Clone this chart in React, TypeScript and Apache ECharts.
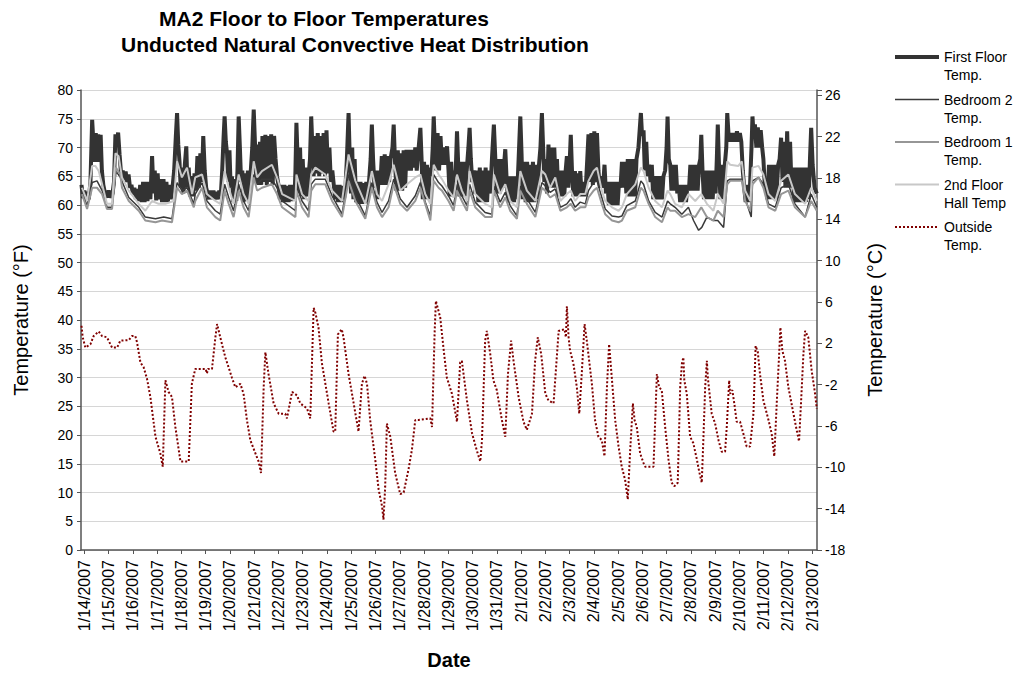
import React, { useEffect, useRef } from "react";
import * as echarts from "echarts";

const BASE = new Date(2007, 0, 14).getTime();
const DAY = 86400000;
const FONT = "'Liberation Sans', Arial, sans-serif";

// [days since 1/14/2007 00:00, °F]
const firstFloor: [number, number][] = [[-0.12,63.5],[-0.06,61.2],[0,62.5],[0.06,61],[0.12,62.3],[0.18,61],[0.25,64],[0.32,74.8],[0.37,71],[0.42,67.5],[0.47,72.5],[0.52,67.5],[0.57,72.3],[0.62,67.5],[0.67,72.2],[0.72,66],[0.78,63.5],[0.85,62],[0.92,61.3],[1,62.5],[1.08,61.3],[1.16,62],[1.22,64],[1.28,72.3],[1.34,70.5],[1.39,72.6],[1.45,68.8],[1.52,65],[1.58,66],[1.64,64.3],[1.7,65.8],[1.76,64],[1.82,65.3],[1.88,63],[1.94,63.5],[2,61.8],[2.06,63],[2.12,61],[2.18,62.8],[2.24,60.7],[2.3,63.5],[2.36,60.5],[2.42,64],[2.48,60.5],[2.54,64],[2.6,60.7],[2.66,64],[2.72,61],[2.79,68.5],[2.85,62],[2.9,66],[2.96,60.8],[3.02,65.5],[3.08,61],[3.14,64.5],[3.2,60.5],[3.26,64.5],[3.32,60.5],[3.38,64],[3.44,60.5],[3.5,63.5],[3.56,61],[3.62,62.5],[3.7,66],[3.77,72],[3.82,76],[3.87,70.5],[3.92,67.6],[3.97,63],[4.02,66.5],[4.08,62],[4.14,67],[4.2,70.2],[4.25,63],[4.3,66.5],[4.36,61.5],[4.42,65],[4.48,61.5],[4.54,65.5],[4.6,62.5],[4.66,68.5],[4.72,63],[4.78,69],[4.84,64],[4.9,72],[4.96,66],[5.02,63],[5.08,62],[5.14,61],[5.2,62.5],[5.26,61],[5.32,62.5],[5.38,61],[5.44,62.3],[5.5,61],[5.56,62.5],[5.62,61.5],[5.68,66],[5.74,72],[5.78,75.4],[5.83,71],[5.88,69],[5.93,64],[5.98,69.5],[6.03,63],[6.08,65],[6.14,60.5],[6.2,64.5],[6.26,60.7],[6.31,66],[6.36,75.4],[6.41,70],[6.46,64],[6.51,66],[6.56,60.5],[6.62,65.5],[6.68,60.7],[6.74,66],[6.8,61],[6.86,66],[6.92,70],[6.98,76.6],[7.03,71],[7.08,64],[7.13,70.5],[7.18,63.5],[7.24,71],[7.29,63.5],[7.34,72],[7.4,64],[7.46,72.2],[7.52,63.5],[7.58,72],[7.64,64],[7.7,72.3],[7.76,63.5],[7.82,72],[7.88,68],[7.94,65],[8,63.5],[8.06,61],[8.12,63.5],[8.18,60.5],[8.24,63.5],[8.3,60.5],[8.36,63.3],[8.42,60.5],[8.48,63.5],[8.54,60.7],[8.6,63.5],[8.66,61],[8.7,66],[8.74,74.3],[8.79,68],[8.84,62],[8.89,70],[8.94,61.5],[9,68],[9.06,61],[9.12,66.5],[9.18,61.5],[9.24,65],[9.3,68],[9.35,75.4],[9.4,70],[9.45,65],[9.5,72],[9.56,65.5],[9.62,72.5],[9.68,65],[9.74,72],[9.8,65.5],[9.86,72.5],[9.92,65],[9.98,73],[10.04,65.5],[10.1,70],[10.16,64],[10.22,66],[10.28,63.5],[10.34,61],[10.4,63.5],[10.46,60.5],[10.52,63.5],[10.58,60.5],[10.64,63.3],[10.7,61],[10.76,63],[10.82,68],[10.89,76],[10.94,68],[10.99,62],[11.04,70],[11.09,61],[11.14,68],[11.2,60.5],[11.26,64],[11.32,60.2],[11.38,64],[11.44,60.2],[11.5,63.8],[11.56,60.3],[11.62,64],[11.68,60.5],[11.74,64.5],[11.8,68],[11.85,74],[11.9,68],[11.96,63],[12.02,66],[12.08,61],[12.14,66],[12.2,63.5],[12.26,68.5],[12.32,63.5],[12.38,68.8],[12.44,63.5],[12.5,68.5],[12.56,64],[12.62,68],[12.7,70],[12.75,74],[12.8,68],[12.86,62.5],[12.92,69.5],[12.98,62.5],[13.04,69],[13.1,62.5],[13.16,69.5],[13.22,63],[13.28,69.6],[13.34,66],[13.4,69.6],[13.46,66],[13.52,69.6],[13.58,66.5],[13.64,70],[13.7,66],[13.78,70],[13.85,73.4],[13.9,68],[13.95,61],[14,67.5],[14.06,61],[14.12,67],[14.18,61],[14.24,66.5],[14.3,65],[14.36,70],[14.4,75.4],[14.45,70],[14.5,66],[14.56,72.5],[14.62,66],[14.68,72],[14.74,67],[14.8,70],[14.86,67],[14.95,70.2],[15.01,66],[15.06,61.5],[15.12,67.5],[15.18,61.5],[15.24,66],[15.3,65],[15.36,72.8],[15.41,67],[15.46,61.5],[15.52,67.5],[15.58,61.5],[15.64,67.5],[15.7,61.5],[15.76,66],[15.83,70],[15.88,73.4],[15.93,68],[15.99,64],[16.05,66],[16.11,62],[16.18,66],[16.24,60.5],[16.3,66.5],[16.36,60.5],[16.42,66],[16.48,60.5],[16.54,66.5],[16.6,60.5],[16.66,66],[16.73,62],[16.8,68],[16.88,74],[16.94,68],[17,62],[17.06,68],[17.12,62],[17.18,68],[17.24,63],[17.3,67],[17.35,69.7],[17.41,64],[17.47,60.5],[17.53,65],[17.59,60.5],[17.65,65],[17.71,60.5],[17.77,65],[17.83,61],[17.9,68],[17.97,75.4],[18.02,69],[18.07,61],[18.13,67.5],[18.19,60.5],[18.25,67.5],[18.31,60.5],[18.37,67],[18.43,60.5],[18.49,67.5],[18.55,60.5],[18.61,67],[18.67,61],[18.74,67],[18.8,70],[18.86,76],[18.91,70],[18.96,64],[19.01,68],[19.07,62],[19.13,70.5],[19.19,63],[19.25,70],[19.31,63],[19.37,70],[19.43,63],[19.48,68],[19.54,61.5],[19.6,66],[19.66,61.5],[19.72,66],[19.78,61.5],[19.84,66],[19.89,68.5],[19.95,63],[20,67],[20.05,72.2],[20.1,66],[20.16,61.5],[20.22,65.9],[20.28,61.5],[20.34,65.5],[20.4,61.5],[20.44,65.9],[20.5,61.5],[20.56,64],[20.62,61.5],[20.68,64],[20.73,68],[20.78,72.3],[20.84,64],[20.9,72.5],[20.96,63.5],[21.02,72.8],[21.08,64],[21.13,72.5],[21.19,66],[21.25,63],[21.31,65],[21.38,63],[21.44,67],[21.5,62],[21.56,64],[21.62,60],[21.68,64],[21.74,60],[21.8,64],[21.86,60],[21.92,64],[21.98,60],[22.04,64],[22.1,63],[22.16,67.5],[22.22,63],[22.28,67.5],[22.34,62],[22.4,68],[22.46,61.5],[22.52,68],[22.58,61.5],[22.64,68],[22.7,61.5],[22.76,68],[22.84,70],[22.94,76],[22.99,72],[23.05,73],[23.1,66],[23.16,71],[23.22,65],[23.28,67],[23.34,64],[23.39,67],[23.45,61],[23.51,65],[23.57,61],[23.63,65],[23.69,61],[23.75,65],[23.81,61],[23.87,65],[23.94,66],[24,70],[24.04,75.4],[24.09,68],[24.15,67],[24.2,62.5],[24.26,67],[24.32,62.5],[24.38,67],[24.44,62],[24.5,63.5],[24.56,60.5],[24.62,63.5],[24.68,60.5],[24.74,63.5],[24.8,60.5],[24.86,63.5],[24.92,62.5],[24.98,67],[25.04,62.5],[25.1,67],[25.16,62.5],[25.22,67],[25.28,62.5],[25.34,67],[25.39,68],[25.43,72.2],[25.48,66],[25.54,61],[25.6,66],[25.66,61],[25.72,66],[25.78,61],[25.84,66],[25.9,61],[25.96,66],[26.02,62],[26.07,68],[26.11,74],[26.16,67],[26.22,61],[26.28,67],[26.34,61],[26.4,67],[26.46,70],[26.5,76],[26.55,72.5],[26.6,71],[26.66,72.5],[26.72,71],[26.78,72.5],[26.84,71],[26.9,72.8],[26.96,71],[27.02,72.5],[27.08,71],[27.14,66],[27.2,63],[27.26,60.5],[27.32,63.5],[27.38,60.5],[27.44,63.5],[27.5,70],[27.54,75.4],[27.59,72],[27.64,74],[27.7,70],[27.76,73.5],[27.82,70],[27.88,73],[27.94,70],[27.99,68],[28.04,64],[28.1,63],[28.16,61],[28.22,67],[28.28,61],[28.34,67],[28.4,61],[28.46,67],[28.52,61],[28.6,67],[28.66,68],[28.72,71.7],[28.78,64],[28.84,71],[28.9,63],[28.97,72.8],[29.03,63],[29.09,71],[29.15,63],[29.2,66.5],[29.26,60.5],[29.32,66.5],[29.38,60.5],[29.44,66.5],[29.5,60.5],[29.56,66.5],[29.62,60.5],[29.68,66.5],[29.74,60.5],[29.8,66.5],[29.86,61],[29.91,68],[29.96,73.4],[30.02,67],[30.1,63],[30.19,62]];

const bedroom2: [number, number][] = [[-0.1,62.2],[0.11,59.9],[0.32,63.9],[0.52,64.2],[0.73,62.5],[0.93,59.6],[1.14,59.6],[1.3,65.9],[1.48,64.8],[1.83,61.3],[2.24,59.6],[2.51,57.9],[2.93,57.6],[3.27,57.9],[3.61,57.6],[3.82,63.9],[4.02,62.5],[4.23,63],[4.51,60.2],[4.57,61.9],[4.85,63.9],[5.05,60.7],[5.4,59],[5.6,58.4],[5.78,63.6],[5.95,61.3],[6.15,59],[6.36,63.6],[6.56,60.7],[6.77,59],[6.98,65.3],[7.12,63.6],[7.32,64.5],[7.73,64.5],[7.94,63],[8.15,60.7],[8.7,59],[8.74,63.6],[8.97,60.7],[9.24,59],[9.35,63.6],[9.52,64.5],[9.93,64.5],[10.21,61.6],[10.62,58.4],[10.89,65.3],[11.17,61.6],[11.58,58.1],[11.85,63.9],[12.06,60.5],[12.27,58.7],[12.54,60.7],[12.75,64.5],[13.02,61.1],[13.3,59.6],[13.64,61.6],[13.85,63.9],[14.05,60.5],[14.26,58.1],[14.4,65.3],[14.6,63.9],[14.74,63.3],[15.01,61.6],[15.22,59.9],[15.36,63.6],[15.56,61.6],[15.77,59.9],[15.88,63.6],[16.11,60.5],[16.52,58.7],[16.8,58.4],[16.88,63.3],[17.14,60.5],[17.35,62.2],[17.55,59.9],[17.83,58.1],[17.97,63.3],[18.24,61.1],[18.59,58.7],[18.86,63.9],[19,63.3],[19.2,62.2],[19.41,62.8],[19.62,59.6],[19.89,60.2],[20.05,61.1],[20.23,59.6],[20.44,60.5],[20.65,60.2],[20.78,62.5],[20.99,63.9],[21.13,64.2],[21.33,61.3],[21.47,59.3],[21.75,58.1],[22.02,57.9],[22.16,58.1],[22.36,59.9],[22.71,60.7],[22.94,64.2],[23.05,63.6],[23.26,60.7],[23.53,58.7],[23.81,57.9],[24.04,60.7],[24.15,60.2],[24.35,59.6],[24.63,58.4],[24.9,59.6],[25.11,57.3],[25.32,55.6],[25.45,56.1],[25.66,57.9],[25.93,57.3],[26.11,57.3],[26.35,56.1],[26.5,64.2],[26.62,64.5],[27.1,64.5],[27.31,60.2],[27.49,57.9],[27.54,64.2],[27.79,64.8],[27.99,63.6],[28.2,60.2],[28.48,59.6],[28.72,63],[29.02,63.6],[29.29,60.2],[29.71,57.9],[29.96,61.9],[30.19,59.6]];

const bedroom1: [number, number][] = [[-0.1,61.9],[0.11,59.3],[0.32,63],[0.52,63],[0.73,61.9],[0.93,59.3],[1.14,59.3],[1.3,66.5],[1.48,65.3],[1.55,63],[1.83,60.7],[2.24,59],[2.51,57.3],[2.93,57],[3.2,57.3],[3.61,57],[3.82,63],[4.02,61.9],[4.23,62.5],[4.51,59.6],[4.57,60.7],[4.85,63],[5.05,59.6],[5.4,57.9],[5.6,57.3],[5.78,62.5],[5.95,60.2],[6.15,57.9],[6.36,62.5],[6.56,59.6],[6.77,57.9],[6.98,64.8],[7.12,62.5],[7.32,63],[7.73,63.6],[7.94,61.9],[8.15,59.6],[8.7,57.9],[8.74,62.5],[8.97,59.6],[9.24,57.9],[9.35,62.5],[9.52,63.6],[9.93,63.6],[10.21,60.7],[10.62,57.9],[10.89,64.2],[11.17,60.7],[11.58,57.6],[11.85,63],[12.06,59.6],[12.27,57.9],[12.54,59.6],[12.75,63.6],[13.02,60.2],[13.3,59],[13.64,60.7],[13.85,63],[14.05,60.2],[14.26,57.3],[14.4,64.2],[14.6,63],[14.74,62.5],[15.01,60.7],[15.22,59],[15.36,62.5],[15.56,60.7],[15.77,59],[15.88,62.5],[16.11,59.6],[16.52,57.9],[16.8,57.9],[16.88,62.5],[17.14,59.6],[17.35,61.3],[17.55,59],[17.83,57.6],[17.97,62.5],[18.24,60.2],[18.59,57.9],[18.86,63],[19,62.5],[19.2,61.3],[19.41,61.9],[19.62,59],[19.89,59.6],[20.05,60.2],[20.23,59],[20.44,59.6],[20.65,59.6],[20.78,61.3],[20.99,62.5],[21.13,63],[21.33,60.2],[21.47,58.4],[21.75,57.3],[22.02,57],[22.16,57.3],[22.36,59],[22.71,59.6],[22.94,63],[23.05,62.5],[23.26,60.2],[23.53,57.9],[23.81,57],[24.04,59.6],[24.15,59],[24.35,59],[24.63,57.9],[24.9,58.4],[25.18,57.9],[25.43,59.6],[25.66,57.9],[25.93,57.3],[26.11,59],[26.35,57.9],[26.5,63.6],[26.62,64.2],[27.1,64.2],[27.24,60.7],[27.45,59],[27.54,63.6],[27.79,64.8],[27.99,63],[28.2,59.6],[28.48,59],[28.72,61.9],[29.02,62.5],[29.29,59.6],[29.71,57.9],[29.96,60.7],[30.19,59]];

const hall: [number, number][] = [[-0.1,63],[0.11,60.7],[0.32,66.8],[0.45,66.8],[0.59,65.9],[0.73,63.6],[0.93,60.2],[1.14,60.2],[1.28,69],[1.41,68.5],[1.55,64.8],[1.83,62.5],[2.24,60.2],[2.51,59],[2.79,60.7],[3.06,60.2],[3.34,60.2],[3.68,60.7],[3.82,67.6],[4.02,64.8],[4.23,66.5],[4.44,61.9],[4.57,64.8],[4.85,65.3],[5.05,61.9],[5.4,60.7],[5.6,60.2],[5.78,65.9],[5.95,63],[6.15,60.2],[6.36,65.3],[6.56,61.9],[6.77,60.2],[6.98,67.6],[7.12,64.8],[7.32,65.9],[7.73,67],[7.94,64.8],[8.15,61.9],[8.7,60.7],[8.74,65.3],[8.97,61.9],[9.24,60.7],[9.35,65.3],[9.52,66.5],[9.93,65.3],[10.21,62.5],[10.62,60.7],[10.89,68.8],[11.17,64.2],[11.58,60.2],[11.85,65.9],[12.06,61.9],[12.27,60.7],[12.54,63.6],[12.75,67],[13.02,62.5],[13.3,63.6],[13.64,64.8],[13.85,65.3],[14.05,61.9],[14.26,60.2],[14.4,67],[14.6,65.3],[14.74,64.5],[15.01,62.5],[15.22,61.3],[15.36,65.3],[15.56,62.5],[15.77,60.7],[15.88,65.9],[16.11,61.9],[16.52,60.2],[16.8,59.6],[16.88,65.3],[17.14,61.9],[17.35,63.6],[17.55,60.7],[17.83,59.6],[17.97,65.9],[18.24,62.5],[18.59,60.7],[18.86,65.9],[19,65.3],[19.2,63],[19.41,64.8],[19.62,60.7],[19.89,61.9],[20.05,62.5],[20.23,60.7],[20.44,61.9],[20.65,61.9],[20.78,64.2],[20.99,65.9],[21.13,66.5],[21.33,62.5],[21.47,60.7],[21.75,59.6],[22.02,59],[22.16,59.6],[22.36,61.9],[22.71,63.6],[22.94,66.5],[23.05,65.9],[23.26,63],[23.53,60.7],[23.81,59.6],[24.04,62.5],[24.15,61.9],[24.35,60.2],[24.63,59.6],[24.9,61.9],[25.18,60.7],[25.43,61.9],[25.66,60.2],[25.93,59],[26.11,61.9],[26.35,60.2],[26.5,67.6],[26.62,67],[26.96,66.8],[27.1,67.6],[27.24,62.5],[27.45,60.7],[27.54,66.5],[27.79,66.8],[27.99,65.3],[28.2,61.9],[28.48,60.7],[28.72,64.2],[29.02,65.3],[29.29,61.9],[29.71,60.2],[29.96,63],[30.19,60.7]];

const outside: [number, number][] = [[-0.12,39],[-0.07,37],[0.04,35.2],[0.25,35.8],[0.38,37.2],[0.59,38],[0.73,37.2],[0.93,37],[1.14,35.2],[1.35,35.2],[1.48,36.4],[1.83,36.5],[1.96,37.2],[2.1,37.2],[2.17,36.1],[2.31,32.6],[2.44,31.8],[2.58,29.8],[2.72,26.6],[2.93,19.7],[3.13,16.8],[3.23,14.5],[3.34,29.5],[3.47,27.5],[3.61,26.6],[3.75,21.4],[3.96,15.4],[4.3,15.4],[4.43,28.9],[4.57,31.5],[5,31.5],[5.05,30.7],[5.1,31.5],[5.26,31.5],[5.4,37],[5.47,39.3],[5.6,37],[5.81,33.5],[6.08,30],[6.22,28.3],[6.43,28.9],[6.56,27.2],[6.7,22.6],[6.84,19.1],[7.05,16.8],[7.18,15.4],[7.28,13.4],[7.39,28.3],[7.46,34.4],[7.59,30.6],[7.8,25.5],[8.01,23.7],[8.28,23.7],[8.35,22.9],[8.56,27.5],[8.76,26.9],[8.9,25.5],[9.18,24.6],[9.31,22.9],[9.45,42.1],[9.52,41.3],[9.65,38.7],[9.79,32.5],[10.07,25.5],[10.27,20.6],[10.34,20.6],[10.45,37.5],[10.61,38.4],[10.68,37],[10.89,30.6],[11.1,25.5],[11.3,20.6],[11.44,28.9],[11.55,30.3],[11.65,28.9],[11.78,22.6],[11.99,15.7],[12.13,10.5],[12.27,7.6],[12.33,5.3],[12.4,11.1],[12.47,22],[12.61,19.7],[12.81,13.4],[13.02,9.7],[13.16,10],[13.36,14],[13.5,17.4],[13.64,22.6],[13.77,22.6],[14.26,22.9],[14.33,21.4],[14.44,38.1],[14.49,43.3],[14.67,40.4],[14.8,35.2],[14.94,30],[15.15,27.2],[15.36,22.3],[15.49,32.6],[15.56,32.9],[15.77,26],[15.98,20.3],[16.19,17.1],[16.32,15.4],[16.39,19.1],[16.52,36.4],[16.59,38.1],[16.73,34.1],[16.86,29.5],[17,27.8],[17.21,22.6],[17.35,19.7],[17.46,30.6],[17.59,36.4],[17.69,32.9],[17.9,26.6],[18.1,22.3],[18.24,20.9],[18.45,23.7],[18.58,32.9],[18.69,37],[18.83,34.1],[19,27.2],[19.13,26],[19.34,25.5],[19.55,38.1],[19.79,38.4],[19.85,37],[19.89,42.4],[19.96,37],[20.02,34.7],[20.16,32.4],[20.3,28.3],[20.4,23.7],[20.51,31.2],[20.62,39.3],[20.71,36.4],[20.92,28.9],[21.05,22.6],[21.19,19.7],[21.33,19.1],[21.44,16.3],[21.54,28.3],[21.63,35.8],[21.74,30],[21.88,22.6],[22.02,18],[22.15,14.5],[22.29,12.2],[22.4,8.8],[22.5,17.4],[22.61,25.5],[22.68,22.6],[22.77,21.4],[22.91,16.8],[23.05,15.1],[23.11,14.5],[23.46,14.5],[23.53,22.6],[23.6,30.6],[23.69,28.3],[23.8,27.8],[23.94,21.4],[24.08,15.7],[24.21,11.7],[24.32,11.1],[24.46,11.7],[24.56,28.3],[24.63,32.4],[24.69,33.5],[24.73,29.5],[24.83,27.2],[24.97,19.7],[25.1,18.6],[25.25,15.7],[25.34,13.7],[25.45,11.7],[25.52,19.7],[25.59,28.3],[25.66,32.9],[25.7,30],[25.86,23.7],[26,22],[26.14,19.1],[26.27,17.1],[26.41,17.1],[26.48,21.4],[26.58,29.5],[26.62,27.2],[26.71,27.8],[26.79,25.5],[26.89,22.3],[27.03,22.3],[27.16,20.3],[27.3,18],[27.44,18],[27.58,23.7],[27.67,35.5],[27.76,34.4],[27.85,30.6],[27.99,26],[28.2,22.6],[28.33,20.3],[28.44,16.3],[28.54,25.5],[28.64,34.1],[28.69,38.7],[28.77,34.7],[28.88,32.9],[29.02,28.3],[29.23,23.7],[29.36,20.9],[29.46,18.9],[29.54,25.5],[29.64,34.1],[29.71,38.1],[29.84,37],[29.98,31.2],[30.12,27.2],[30.19,24.6]];

const seriesNames = ["First Floor Temp.", "Bedroom 2 Temp.", "Bedroom 1 Temp.", "2nd Floor Hall Temp", "Outside Temp."];
const legendLabels: Record<string, string> = {
  "First Floor Temp.": "First Floor\nTemp.",
  "Bedroom 2 Temp.": "Bedroom 2\nTemp.",
  "Bedroom 1 Temp.": "Bedroom 1\nTemp.",
  "2nd Floor Hall Temp": "2nd Floor\nHall Temp",
  "Outside Temp.": "Outside\nTemp.",
};
const seriesColors = ["#333333", "#3a3a3a", "#969696", "#c8c8c8", "#800000"];
const seriesWidths = [4, 1.5, 2, 2, 2];

const toTime = (arr: [number, number][]) => arr.map(([d, v]) => [BASE + d * DAY, v]);

export default function App() {
  const ref = useRef<HTMLDivElement>(null);
  useEffect(() => {
    if (!ref.current) return;
    const chart = echarts.init(ref.current, undefined, { renderer: "svg" });
    const mk = (i: number, data: [number, number][], type: any = "solid") => ({
      name: seriesNames[i],
      type: "line",
      data: toTime(data),
      showSymbol: false,
      symbol: "none",
      lineStyle: { color: seriesColors[i], width: seriesWidths[i], type },
      itemStyle: { color: seriesColors[i] },
      emphasis: { disabled: true },
    });
    chart.setOption({
      animation: false,
      backgroundColor: "#ffffff",
      textStyle: { fontFamily: FONT },
      title: [
        { text: "MA2 Floor to Floor Temperatures", left: 154, top: 3, padding: 5, textStyle: { fontSize: 21, fontWeight: "bold", color: "#000", fontFamily: FONT } },
        { text: "Unducted Natural Convective Heat Distribution", left: 116, top: 29, padding: 5, textStyle: { fontSize: 21, fontWeight: "bold", color: "#000", fontFamily: FONT } },
      ],
      legend: {
        orient: "vertical",
        left: 893,
        top: 30,
        padding: 0,
        itemWidth: 44,
        itemHeight: 14,
        itemGap: -11.5,
        data: seriesNames.map((n, i) => ({
          name: n,
          lineStyle: { width: seriesWidths[i], color: seriesColors[i], type: i === 4 ? [2, 2] : "solid" },
        })),
        formatter: (n: string) => "\n" + legendLabels[n],
        itemStyle: { opacity: 0 },
        textStyle: { fontSize: 14, lineHeight: 18, color: "#000", fontFamily: FONT },
        selectedMode: false,
      },
      grid: { left: 81, right: 210, top: 90, bottom: 122, containLabel: false },
      xAxis: {
        type: "time",
        min: BASE - 0.14 * DAY,
        max: BASE + 30.2 * DAY,
        splitNumber: 30,
        minInterval: DAY,
        maxInterval: DAY,
        name: "Date",
        nameLocation: "middle",
        nameGap: 100,
        nameTextStyle: { fontSize: 20, fontWeight: "bold", color: "#000", fontFamily: FONT },
        axisLine: { lineStyle: { color: "#555", width: 1.5 } },
        axisTick: { show: true, length: 4, lineStyle: { color: "#555" } },
        splitLine: { show: false },
        axisLabel: {
          rotate: 90,
          fontSize: 16,
          color: "#000",
          margin: 10,
          fontFamily: FONT,
          hideOverlap: false,
          formatter: (v: number) => {
            const d = new Date(v);
            return `${d.getMonth() + 1}/${d.getDate()}/${d.getFullYear()}`;
          },
        },
      },
      yAxis: [
        {
          type: "value",
          min: 0,
          max: 80,
          interval: 5,
          position: "left",
          name: "Temperature (°F)",
          nameLocation: "middle",
          nameGap: 50,
          nameTextStyle: { fontSize: 20, color: "#000", fontFamily: FONT },
          axisLine: { show: true, lineStyle: { color: "#555", width: 1.5 } },
          axisTick: { show: true, length: 4, lineStyle: { color: "#555" } },
          splitLine: { show: true, lineStyle: { color: "#d6d6d6", width: 1 } },
          axisLabel: { fontSize: 14, color: "#000", margin: 8, fontFamily: FONT },
        },
        {
          type: "value",
          min: -18,
          max: 26.5,
          interval: 4,
          position: "right",
          name: "Temperature (°C)",
          nameLocation: "middle",
          nameGap: 48,
          nameRotate: 90,
          nameTextStyle: { fontSize: 20, color: "#000", fontFamily: FONT },
          axisLine: { show: true, lineStyle: { color: "#555", width: 1.5 } },
          axisTick: { show: true, length: 5, lineStyle: { color: "#555" } },
          splitLine: { show: false },
          axisLabel: {
            fontSize: 14,
            color: "#000",
            margin: 8,
            fontFamily: FONT,
            formatter: (v: number) => (Math.abs(v - Math.round(v)) < 1e-6 ? String(Math.round(v)) : ""),
          },
        },
      ],
      series: [
        mk(0, firstFloor),
        mk(1, bedroom2),
        mk(2, bedroom1),
        mk(3, hall),
        mk(4, outside, [2, 2]),
      ],
    });
    return () => chart.dispose();
  }, []);
  return <div ref={ref} style={{ position: "fixed", left: 0, top: 0, width: 1027, height: 675 }} />;
}
